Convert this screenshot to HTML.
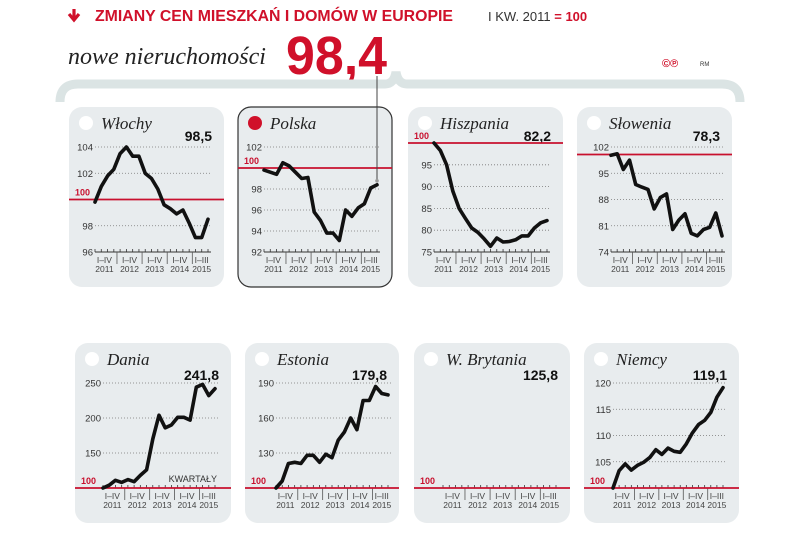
<!DOCTYPE html>
<html><head><meta charset="utf-8">
<style>
body{margin:0;width:805px;height:538px;background:#fff;overflow:hidden;font-family:"Liberation Sans",sans-serif;}
svg{display:block}
</style></head>
<body>
<svg id="chart" width="805" height="538" viewBox="0 0 805 538" xmlns="http://www.w3.org/2000/svg">
  <g>
    <path d="M74 9 L74 18 M69 14 L74 20 L79 14" stroke="#d0102a" stroke-width="3.2" fill="none"/>
    <text x="95" y="21" font-size="15.5" font-weight="bold" fill="#d0102a" textLength="358" lengthAdjust="spacingAndGlyphs">ZMIANY CEN MIESZKAŃ I DOMÓW W EUROPIE</text>
    <text x="488" y="21" font-size="13" fill="#333">I KW. 2011 <tspan fill="#d0102a" font-weight="bold">= 100</tspan></text>
    <text x="68" y="64" font-size="24" font-style="italic" font-family="'Liberation Serif',serif" fill="#222">nowe nieruchomości</text>
    <text x="286" y="74" font-size="54" font-weight="bold" fill="#d0102a" textLength="101" lengthAdjust="spacingAndGlyphs">98,4</text>
    <text x="662" y="67" font-size="11" font-weight="bold" fill="#d0102a">©℗</text>
    <text x="700" y="66" font-size="6" fill="#333">RM</text>
    <path d="M60 102 Q60 84 78 84 L385 84 Q394 84 396 72 Q398 84 407 84 L722 84 Q740 84 740 102" stroke="#dbe4e4" stroke-width="9" fill="none"/>
    <line x1="377" y1="110" x2="377" y2="76" stroke="#444" stroke-width="1"/>
  </g>
  <g id="panels"></g>
</svg>
<script>
const quarters = ["2011Q1","2011Q2","2011Q3","2011Q4","2012Q1","2012Q2","2012Q3","2012Q4","2013Q1","2013Q2","2013Q3","2013Q4","2014Q1","2014Q2","2014Q3","2014Q4","2015Q1","2015Q2","2015Q3"];
const yearLabels = ["2011","2012","2013","2014","2015"];
const periodLabels = ["I–IV","I–IV","I–IV","I–IV","I–III"];
const wlochyValues = [99.8,101,101.8,102.3,103.5,104,103.3,103.3,102.0,101.6,100.8,99.6,99.3,98.9,99.2,98.2,97.1,97.1,98.5];
const polskaValues = [99.8,99.6,99.4,100.5,100.2,99.6,99.0,99.1,95.8,95.0,93.8,93.8,93.1,96.0,95.4,96.2,96.6,98.1,98.4];
const hiszpaniaValues = [100,98.3,95,89,85,82.7,80.5,79.5,78,76.3,78.2,77.3,77.4,77.8,78.7,78.7,80.5,81.7,82.2];
const sloweniaValues = [99.8,100.2,96,98.5,92,91.3,90.7,85.5,88.5,89.5,80,82.5,84.2,79,78.3,80,80.6,84.4,78.3];
const daniaValues = [100,104,111,108,112,109,118,126,170,204,186,190,201,201,197,244,248,232,241.8];
const estoniaValues = [100,106,121,122,121,128,128,122,129,126,141,148,160,150,175,175,187,181,179.8];
const brytaniaValues = [];
const niemcyValues = [100,103.3,104.6,103.4,104.3,104.9,105.8,107.3,106.4,107.6,107,106.8,108.4,110.5,112.1,112.9,114.4,117.3,119.1];
const wlochyTicks = [96,98,102,104];
const polskaTicks = [92,94,96,98,102];
const hiszpaniaTicks = [75,80,85,90,95];
const sloweniaTicks = [74,81,88,95,102];
const daniaTicks = [150,200,250];
const estoniaTicks = [130,160,190];
const niemcyTicks = [105,110,115,120];
const panelNames = ["Włochy","Polska","Hiszpania","Słowenia","Dania","Estonia","W. Brytania","Niemcy"];
const lastValues = ["98,5","","82,2","78,3","241,8","179,8","125,8","119,1"];

const panels = [
 {id:"wlochy",px:69,py:107,pw:155,ph:180,x0:95,x1:208,vmin:96,vmax:104,yb:252,yt:147,data:wlochyValues,ticks:wlochyTicks,redLabel:true,bottom:false},
 {id:"polska",px:238,py:107,pw:154,ph:180,x0:264,x1:377,vmin:92,vmax:102,yb:252,yt:147,data:polskaValues,ticks:polskaTicks,redLabel:true,bottom:false,border:true,dot:"#d0102a"},
 {id:"hiszpania",px:408,py:107,pw:155,ph:180,x0:434,x1:547,vmin:75,vmax:100,yb:252,yt:143,data:hiszpaniaValues,ticks:hiszpaniaTicks,redLabel:true,bottom:false},
 {id:"slowenia",px:577,py:107,pw:155,ph:180,x0:611,x1:722,vmin:74,vmax:102,yb:252,yt:147,data:sloweniaValues,ticks:sloweniaTicks,redLabel:false,bottom:false},
 {id:"dania",px:75,py:343,pw:156,ph:180,x0:103,x1:215,vmin:100,vmax:250,yb:488,yt:383,data:daniaValues,ticks:daniaTicks,redLabel:true,bottom:true,kw:true},
 {id:"estonia",px:245,py:343,pw:154,ph:180,x0:276,x1:388,vmin:100,vmax:190,yb:488,yt:383,data:estoniaValues,ticks:estoniaTicks,redLabel:true,bottom:true},
 {id:"w-brytania",px:414,py:343,pw:156,ph:180,x0:443,x1:556,vmin:100,vmax:120,yb:488,yt:383,data:brytaniaValues,ticks:[],redLabel:true,bottom:true},
 {id:"niemcy",px:584,py:343,pw:155,ph:180,x0:613,x1:723,vmin:100,vmax:120,yb:488,yt:383,data:niemcyValues,ticks:niemcyTicks,redLabel:true,bottom:true}
];
const NS="http://www.w3.org/2000/svg";
const root=document.getElementById("panels");
function mk(tag,attrs,parent,text){const e=document.createElementNS(NS,tag);for(const k in attrs)e.setAttribute(k,attrs[k]);if(text!==undefined)e.textContent=text;parent.appendChild(e);return e;}
panels.forEach((p,pi)=>{
  const g=mk("g",{},root);
  
  
  const n=quarters.length;
  const xs=i=>p.x0+i*(p.x1-p.x0)/(n-1);
  const ys=v=>p.yb-(v-p.vmin)/(p.vmax-p.vmin)*(p.yb-p.yt);
  const bg=mk("rect",{x:p.px,y:p.py,width:p.pw,height:p.ph,rx:13,fill:"#e8ecee",stroke:p.border?"#333":"none","stroke-width":1.2},g);
  
  
  const dot=mk("circle",{cx:p.px+17,cy:p.py+16,r:7,fill:p.dot||"#fff"},g);
  
  
  const t=mk("text",{x:p.px+32,y:p.py+22,"font-size":17,"font-style":"italic","font-family":"'Liberation Serif',serif",fill:"#222"},g,panelNames[pi]);
  
  
  const vy=p.bottom?p.py+37:p.py+34;
  if(lastValues[pi]){
    const vl=mk("text",{x:p.px+p.pw-12,y:vy,"font-size":14,"font-weight":"bold","text-anchor":"end",fill:"#111"},g,lastValues[pi]);
    
    
  }
  p.ticks.forEach(v=>{
    const y=ys(v);
    if(v!==p.vmin||p.bottom){
      const gl=mk("line",{x1:p.x0,x2:p.x1+3,y1:y,y2:y,stroke:"#777","stroke-width":0.8,"stroke-dasharray":"1 2"},g);
      
      
    }
    const tl=mk("text",{x:p.x0-2,y:y+3.5,"font-size":9.5,"text-anchor":"end",fill:"#333"},g,String(v));
    
    
  });
  const ay=p.yb;
  if(!p.bottom){
    const ax=mk("line",{x1:p.x0,x2:p.x1+3,y1:ay,y2:ay,stroke:"#333","stroke-width":1},g);
    
    
  }
  quarters.forEach((q,i)=>{
    const tk=mk("line",{x1:xs(i),x2:xs(i),y1:ay-3,y2:ay,stroke:"#333","stroke-width":0.8},g);
    
    
  });
  [3.5,7.5,11.5,15.5].forEach(i=>{
    const s=mk("line",{x1:xs(i),x2:xs(i),y1:ay,y2:ay+12,stroke:"#555","stroke-width":0.8},g);
    
    
  });
  yearLabels.forEach((yr,k)=>{
    const ci=k<4?k*4+1.5:17;
    const l1=mk("text",{x:xs(ci),y:ay+11,"font-size":8.5,"text-anchor":"middle",fill:"#444"},g,periodLabels[k]);
    
    
    const l2=mk("text",{x:xs(ci),y:ay+20,"font-size":8.5,"text-anchor":"middle",fill:"#444"},g,yr);
    
    
  });
  const ry=ys(100);
  const rl=mk("line",{x1:p.px,x2:p.px+p.pw,y1:ry,y2:ry,stroke:"#c8102e","stroke-width":1.8},g);
  
  
  if(p.redLabel){
    const r=mk("text",{x:p.px+6,y:ry-4,"font-size":9,"font-weight":"bold",fill:"#c8102e"},g,"100");
    
    
  }
  if(p.kw){
    const k=mk("text",{x:p.x1+2,y:ry-6,"font-size":9,"text-anchor":"end",fill:"#333"},g,"KWARTAŁY");
    
    
  }
  if(p.data.length){
    const d=p.data.map((v,i)=>(i?"L":"M")+xs(i).toFixed(1)+" "+ys(v).toFixed(1)).join(" ");
    const ln=mk("path",{d:d,fill:"none",stroke:"#111","stroke-width":3.6,"stroke-linejoin":"round","stroke-linecap":"round"},g);
    
    
  }
  if(p.id==="polska"){
    const last=p.data[p.data.length-1];
    const lead=mk("line",{x1:xs(n-1),x2:xs(n-1),y1:p.py,y2:ys(last)-4,stroke:"#444","stroke-width":1},g);
    
    
    const c=mk("circle",{cx:xs(n-1),cy:ys(last)-4,r:1.8,fill:"#999"},g);
    
    
  }
});
</script>
</body></html>
